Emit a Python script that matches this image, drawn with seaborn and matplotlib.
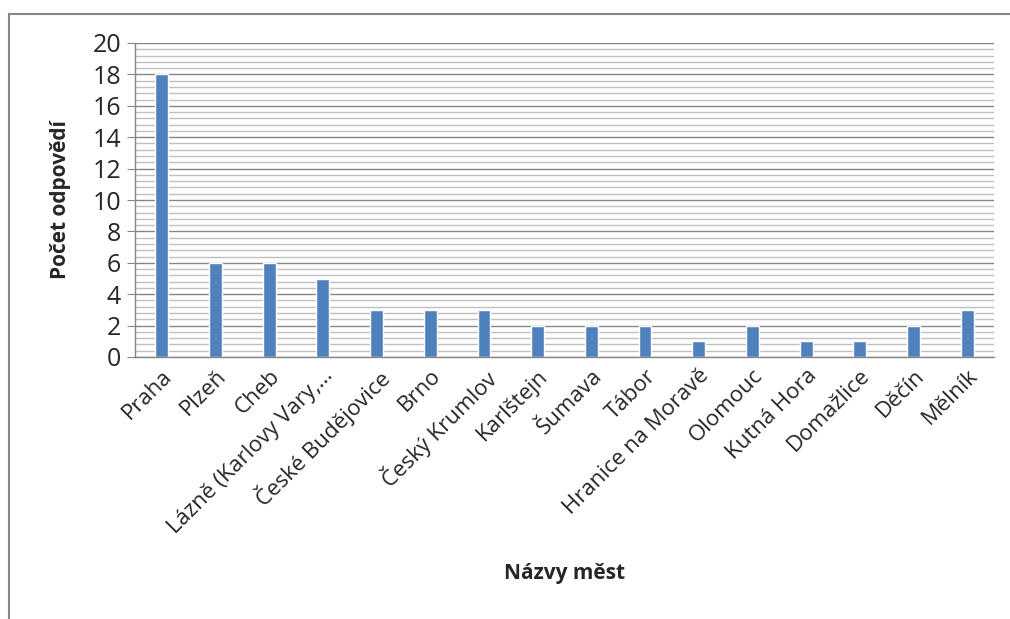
import matplotlib.pyplot as plt
import seaborn as sns
import numpy as np
from matplotlib.patches import Rectangle
from matplotlib.ticker import MultipleLocator

cities = ["Praha", "Plzeň", "Cheb", "Lázně (Karlovy Vary,…", "České Budějovice",
          "Brno", "Český Krumlov", "Karlštejn", "Šumava", "Tábor",
          "Hranice na Moravě", "Olomouc", "Kutná Hora", "Domažlice", "Děčín", "Mělník"]
counts = [18, 6, 6, 5, 3, 3, 3, 2, 2, 2, 1, 2, 1, 1, 2, 3]

sns.set_style("white")
plt.rcParams['font.family'] = ['Open Sans', 'DejaVu Sans']

W, H = 1010, 619
fig = plt.figure(figsize=(W / 100, H / 100), dpi=100)
ax = fig.add_axes([135 / W, 1 - 357 / H, (994 - 135) / W, (357 - 43) / H])

sns.barplot(x=cities, y=counts, color="#4F81BD", width=0.24, saturation=1, ax=ax)

ax.set_ylim(0, 20)
ax.set_xlim(-0.5, len(cities) - 0.5)
ax.yaxis.set_major_locator(MultipleLocator(2))
ax.yaxis.set_minor_locator(MultipleLocator(0.4))
ax.grid(which="major", axis="y", color="#868686", linewidth=1.0)
ax.grid(which="minor", axis="y", color="#BFBFBF", linewidth=1.0)
ax.set_axisbelow(True)

for side in ["top", "right"]:
    ax.spines[side].set_visible(False)
for side in ["left", "bottom"]:
    ax.spines[side].set_color("#868686")
    ax.spines[side].set_linewidth(1.0)

ax.tick_params(axis="y", which="major", length=6, color="#868686", direction="out",
               labelsize=18, pad=4, left=True)
ax.tick_params(axis="y", which="minor", length=0)
ax.tick_params(axis="x", length=0, labelsize=16, pad=6)
plt.setp(ax.get_xticklabels(), rotation=45, ha="right", rotation_mode="anchor")

ax.set_ylabel("Počet odpovědí", fontsize=15, fontweight="bold")
ax.yaxis.set_label_coords(-0.075, 0.5)
ax.set_xlabel("Názvy měst", fontsize=15, fontweight="bold")
ax.xaxis.set_label_coords(0.5, -0.655)

# chart area border (right and bottom edges fall outside the image)
fig.patches.append(Rectangle((9 / W, -0.05), 1.1, 1.05 - 14 / H, transform=fig.transFigure,
                             fill=False, edgecolor="#868686", linewidth=1.5))

fig.savefig("out.png", dpi=100)
